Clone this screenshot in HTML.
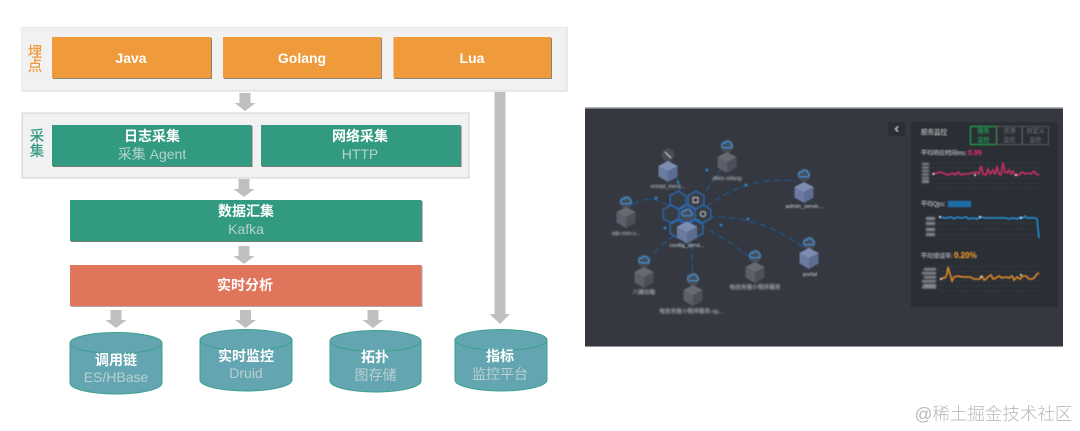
<!DOCTYPE html>
<html><head><meta charset="utf-8">
<style>
html,body{margin:0;padding:0;background:#fff;width:1080px;height:431px;overflow:hidden}
svg{display:block}
text{font-family:"Liberation Sans","Noto Sans CJK SC",sans-serif;text-anchor:middle}
.t{font-size:14px;font-weight:700;fill:#fff}
.s{font-size:14px;fill:#b4d3cc}
.c{font-size:14px;fill:#bcd0d4}
.l{font-size:5.7px;fill:#d0d3d8}
.m{font-size:6px;fill:#b5b8bd;text-anchor:start}
</style></head><body>
<svg width="1080" height="431" viewBox="0 0 1080 431" xmlns="http://www.w3.org/2000/svg">
<defs>
<filter id="g" x="0" y="0" width="100%" height="100%"><feGaussianBlur stdDeviation="0.35"/></filter>
<filter id="d" x="0" y="0" width="100%" height="100%"><feGaussianBlur stdDeviation="0.4"/></filter>
<filter id="b1" x="-20%" y="-50%" width="140%" height="200%"><feGaussianBlur stdDeviation="0.35"/></filter>
<filter id="b2" x="-20%" y="-50%" width="140%" height="200%"><feGaussianBlur stdDeviation="0.7"/></filter>
<g id="cube">
<polygon points="0,-10 9.5,-5 9.5,5.5 0,11 -9.5,5.5 -9.5,-5" fill="#5b5f69"/>
<polygon points="0,-10 9.5,-5 0,0 -9.5,-5" fill="#666a73"/>
<polygon points="0,0 9.5,-5 9.5,5.5 0,11" fill="#4c5059"/>
</g>
<g id="bcube">
<polygon points="0,-10 9.5,-5 9.5,5.5 0,11 -9.5,5.5 -9.5,-5" fill="#6a7aa0"/>
<polygon points="0,-10 9.5,-5 0,0 -9.5,-5" fill="#7d8db2"/>
<polygon points="0,0 9.5,-5 9.5,5.5 0,11" fill="#5d6c91"/>
</g>
<g id="cloud">
<circle r="6.5" fill="#484d56"/>
<path d="M-3.8,1.8 h7.4 a2,2 0 0 0 .2,-3.9 a3,3 0 0 0 -5.7,-.8 a2.4,2.4 0 0 0 -1.9,4.7z" fill="none" stroke="#3199e2" stroke-width="1"/>
</g>
<polygon id="hex" points="0,-9 8,-4.5 8,4.5 0,9 -8,4.5 -8,-4.5" fill="#383c45" stroke="#2c68ae" stroke-width="1.3"/>
<polygon id="ar" points="-5.500,0 5.500,0 5.500,10 10.500,10 0,18 -10.500,10 -5.500,10" fill="#bfbfbf"/>
</defs>

<g filter="url(#g)">
<!-- Left diagram -->
<rect x="21.5" y="27" width="545.5" height="64" fill="#f1f1f1" stroke="#d9d9d9" stroke-width="1"/>
<text x="35" y="57" style="font-size:14.5px;font-weight:500;fill:#ef9a3a">埋</text>
<text x="35" y="71" style="font-size:14.5px;font-weight:500;fill:#ef9a3a">点</text>
<g fill="#8c8577">
<rect x="53" y="38" width="159" height="41"/><rect x="224" y="38" width="158" height="41"/><rect x="394" y="38" width="158" height="41"/>
</g>
<g fill="#ef9a3a">
<rect x="52" y="37" width="159" height="41"/><rect x="223" y="37" width="158" height="41"/><rect x="393.5" y="37" width="157.5" height="41"/>
</g>
<text class="t" x="131" y="63">Java</text>
<text class="t" x="302" y="63">Golang</text>
<text class="t" x="472" y="63">Lua</text>

<use href="#ar" x="245" y="93"/>
<rect x="22" y="113" width="447" height="65" fill="#f1f1f1" stroke="#d2d2d2" stroke-width="1"/>
<text x="37" y="141" style="font-size:14.5px;font-weight:500;fill:#339a80">采</text>
<text x="37" y="156" style="font-size:14.5px;font-weight:500;fill:#339a80">集</text>
<g fill="#777">
<rect x="53" y="126" width="199.500" height="41"/><rect x="262" y="126" width="199.500" height="41"/><rect x="71" y="201" width="351.500" height="41"/>
</g>
<g fill="#339a80">
<rect x="52" y="125" width="199.500" height="41"/><rect x="261" y="125" width="199.500" height="41"/><rect x="70" y="200" width="351.500" height="41"/>
</g>
<text class="t" x="152" y="141">日志采集</text>
<text class="s" x="152" y="159">采集 Agent</text>
<text class="t" x="360" y="141">网络采集</text>
<text class="s" x="360" y="159">HTTP</text>

<use href="#ar" x="244" y="179"/>
<text class="t" x="246" y="216">数据汇集</text>
<text class="s" x="246" y="234">Kafka</text>

<use href="#ar" x="244" y="246"/>
<rect x="71" y="266" width="351.500" height="41" fill="#aaa"/>
<rect x="70" y="265" width="351.500" height="41" fill="#e1745b"/>
<text class="t" x="245" y="290">实时分析</text>

<use href="#ar" x="116" y="310"/>
<use href="#ar" x="245.500" y="310"/>
<use href="#ar" x="373" y="310"/>

<rect x="494.500" y="92" width="11" height="223" fill="#bfbfbf"/>
<polygon points="489.500,314 510,314 500,324" fill="#bfbfbf"/>

<!-- Cylinders -->
<g fill="#64a5b0" stroke="#3ca090" stroke-width="1">
<path d="M70,343 v40 a46,11 0 0 0 92,0 v-40z"/><ellipse cx="116" cy="343" rx="46" ry="10.500"/>
<path d="M200,340 v40 a46,11 0 0 0 92,0 v-40z"/><ellipse cx="246" cy="340" rx="46" ry="10.500"/>
<path d="M330,341 v40 a45.500,11 0 0 0 91,0 v-40z"/><ellipse cx="375.500" cy="341" rx="45.500" ry="10.500"/>
<path d="M455,340 v40 a46,11 0 0 0 92,0 v-40z"/><ellipse cx="501" cy="340" rx="46" ry="10.500"/>
</g>
<text class="t" x="116" y="365">调用链</text><text class="c" x="116" y="382">ES/HBase</text>
<text class="t" x="246" y="361">实时监控</text><text class="c" x="246" y="378">Druid</text>
<text class="t" x="375" y="362">拓扑</text><text class="c" x="375.500" y="380">图存储</text>
<text class="t" x="500" y="361">指标</text><text class="c" x="500" y="379">监控平台</text>

<!-- Dashboard -->
<rect x="585" y="107" width="478" height="240" fill="#343840"/>
<rect x="585" y="107" width="478" height="1.500" fill="#b5b7ba"/>
<rect x="585" y="346" width="478" height="1" fill="#8e9095"/>

<g filter="url(#d)">
<g fill="none" stroke="#245f9c" stroke-width="1" stroke-dasharray="7 3.500">
<path d="M676,174 Q680,190 684,210"/>
<path d="M697,210 Q708,185 722,168"/>
<path d="M706,207 Q745,176 796,181"/>
<path d="M633,205 Q650,192 672,208"/>
<path d="M708,217 Q760,215 803,247"/>
<path d="M700,225 Q725,238 748,256"/>
<path d="M675,235 Q660,245 648,260"/>
<path d="M691,243 L693,277"/>
</g>
<g fill="#2f86d0">
<circle cx="678" cy="182" r="1.300"/><circle cx="707" cy="170" r="1.400"/><circle cx="746" cy="185" r="1.400"/><circle cx="656" cy="198" r="1.400"/><circle cx="748" cy="219" r="1.400"/><circle cx="721" cy="225" r="1.400"/><circle cx="665" cy="228" r="1.400"/><circle cx="691" cy="238" r="1.400"/>
</g>

<use href="#hex" x="678" y="200"/><use href="#hex" x="696" y="200"/>
<use href="#hex" x="671" y="214"/><use href="#hex" x="687" y="214"/><use href="#hex" x="703" y="214"/>
<use href="#hex" x="678" y="229"/><use href="#hex" x="695" y="229"/>
<rect x="693" y="197.500" width="5" height="5" fill="none" stroke="#c4c7cc" stroke-width="0.8"/>
<circle cx="703" cy="214" r="2.600" fill="none" stroke="#c4c7cc" stroke-width="0.8"/>

<use href="#cloud" x="687" y="214"/>
<g transform="translate(687,232) scale(1.050)"><use href="#bcube"/></g>
<circle cx="668" cy="155" r="6.500" fill="#484d56"/>
<path d="M665,152 l6,6" stroke="#c4c7cc" stroke-width="1"/>
<use href="#bcube" x="668" y="171"/>
<use href="#cloud" x="727" y="146"/><use href="#cube" x="727" y="162"/>
<use href="#cloud" x="804" y="175"/><use href="#bcube" x="804" y="192"/>
<use href="#cloud" x="626" y="202"/><use href="#cube" x="626" y="217"/>
<use href="#cloud" x="644" y="261"/><use href="#cube" x="644" y="277"/>
<use href="#cloud" x="693" y="279"/><use href="#cube" x="693" y="295"/>
<use href="#cloud" x="755" y="256"/><use href="#cube" x="755" y="272"/>
<use href="#cloud" x="809" y="243"/><use href="#bcube" x="809" y="258"/>

<g filter="url(#b1)">
<text class="l" x="804.500" y="208">admin_servic...</text>
<text class="l" x="687" y="247">config_servi...</text>
<text class="l" x="810" y="276">portal</text>
</g>
<g filter="url(#b2)">
<text class="l" x="668" y="188">eread_mect...</text>
<text class="l" x="727" y="180">sfiire-sifang</text>
<text class="l" x="626" y="235">sijk-mm-s...</text>
<text class="l" x="644" y="294">八键出租</text>
<text class="l" x="691" y="313">电信充值小程序服务-sg...</text>
<text class="l" x="755" y="289">电信充值小程序服务</text>
</g>

<!-- Right panel -->
<rect x="888" y="122" width="17" height="14" fill="#2b2f36"/>
<path d="M898,126.500 l-2.500,2.500 l2.500,2.500" fill="none" stroke="#d5d7da" stroke-width="1"/>
<rect x="911" y="122" width="147" height="185" fill="#2b2f36"/>

<g filter="url(#b1)">
<text class="m" x="921" y="134" style="font-size:6.500px">服务监控</text>
<text class="m" x="921" y="155">平均响应时间ms:</text>
<text class="m" x="968" y="155" style="font-size:7px;font-weight:700;fill:#c92f6b">0.99</text>
<text class="m" x="921" y="206">平均Qps:</text>
<rect x="948" y="201" width="23" height="6" fill="#1e6ea8"/>
<text class="m" x="921" y="258">平均错误率:</text>
<text class="m" x="954" y="258" style="font-size:8px;font-weight:700;fill:#d9902a">0.20%</text>
</g>

<rect x="970.500" y="126.500" width="26" height="18" fill="none" stroke="#1f9a4f" stroke-width="1"/>
<rect x="997" y="126.500" width="25" height="18" fill="none" stroke="#50545b" stroke-width="1"/>
<rect x="1022.500" y="126.500" width="26" height="18" fill="none" stroke="#50545b" stroke-width="1"/>
<g filter="url(#b1)" style="font-size:6px">
<text x="983.500" y="133" fill="#22a85a" style="font-size:6px">服务</text><text x="983.500" y="142" fill="#22a85a" style="font-size:6px">监控</text>
<text x="1009.500" y="133" fill="#6a6e75" style="font-size:6px">资源</text><text x="1009.500" y="142" fill="#6a6e75" style="font-size:6px">监控</text>
<text x="1035.500" y="133" fill="#6a6e75" style="font-size:6px">自定义</text><text x="1035.500" y="142" fill="#6a6e75" style="font-size:6px">监控</text>
</g>

<!-- chart grids -->
<g stroke="#4a4e55" stroke-width="0.7" stroke-dasharray="1 2.500" fill="none">
<path d="M933,163 H1040 M933,168 H1040 M933,173 H1040 M933,178 H1040 M933,183 H1040 M933,188 H1040"/>
<path d="M939,217 H1040 M939,223 H1040 M939,229 H1040 M939,235 H1040 M939,240 H1040"/>
<path d="M939,266 H1040 M939,271 H1040 M939,276 H1040 M939,281 H1040 M939,286 H1040 M939,291 H1040"/>
</g>
<!-- axis labels -->
<g filter="url(#b2)" fill="#85888e">
<rect x="922" y="163" width="7" height="2"/><rect x="922" y="166.500" width="7" height="2"/><rect x="922" y="170" width="7" height="2"/><rect x="922" y="173.500" width="7" height="2"/><rect x="922" y="177" width="7" height="2"/><rect x="922" y="180" width="7" height="3"/>
<rect x="926" y="217" width="9" height="3"/><rect x="926" y="222" width="9" height="3"/><rect x="926" y="228" width="9" height="3"/><rect x="926" y="233" width="9" height="3"/>
<rect x="924" y="268" width="12" height="2.500"/><rect x="922" y="272" width="14" height="2.500"/><rect x="924" y="276" width="12" height="2.500"/><rect x="922" y="280" width="14" height="2.500"/><rect x="923" y="284" width="13" height="2.500"/><rect x="922" y="286.500" width="14" height="2"/>
</g>

<polyline fill="none" stroke="#c92f6b" stroke-width="1.300" points="933,174 937,173 941,172 945,174 949,175 952,173 955,175 958,172 961,175 964,174 968,174 972,173 976,172 979,174 981,166 983,174 986,175 988,169 990,174 993,170 995,174 997,167 999,174 1001,175 1003,163 1005,172 1007,173 1009,170 1011,174 1013,171 1015,175 1019,175 1022,172 1025,174 1028,173 1031,174 1034,171 1036,174 1039,175"/>
<polyline fill="none" stroke="#1f8fd0" stroke-width="1.300" points="940,217 944,218 948,218 951,217 954,219 957,217 960,218 963,218 966,217 969,219 973,218 977,219 981,217 985,218 989,218 993,218 997,218 1001,218 1005,218 1009,219 1013,218 1017,219 1021,217 1023,218 1025,216 1027,218 1031,218 1035,218 1037,219 1039,238"/>
<polyline fill="none" stroke="#d98c24" stroke-width="1.300" points="941,279 943,278 945,278 947,274 948,267 950,274 952,281 954,277 958,276 962,277 966,277 970,277 974,279 978,279 980,279 982,276 984,280 986,279 988,277 991,275 993,279 996,278 999,276 1002,278 1006,277 1009,278 1012,276 1014,280 1017,277 1020,279 1023,276 1026,276 1029,279 1032,279 1034,278 1037,274 1039,273"/>
<g fill="#f0f0f0">
<circle cx="933.500" cy="174" r="0.900"/><circle cx="975" cy="175" r="0.900"/><circle cx="1016" cy="175" r="0.900"/>
<circle cx="940" cy="217" r="0.900"/><circle cx="980" cy="217" r="0.900"/><circle cx="1021" cy="218" r="0.900"/>
<circle cx="941" cy="279" r="0.900"/><circle cx="981" cy="277" r="0.900"/><circle cx="1021" cy="275" r="0.900"/>
</g>
</g>

<!-- Watermark -->
<text x="993.500" y="420" style="font-size:17.500px;fill:#b8b8b8;font-weight:300">@稀土掘金技术社区</text>
</g>
</svg>
</body></html>
